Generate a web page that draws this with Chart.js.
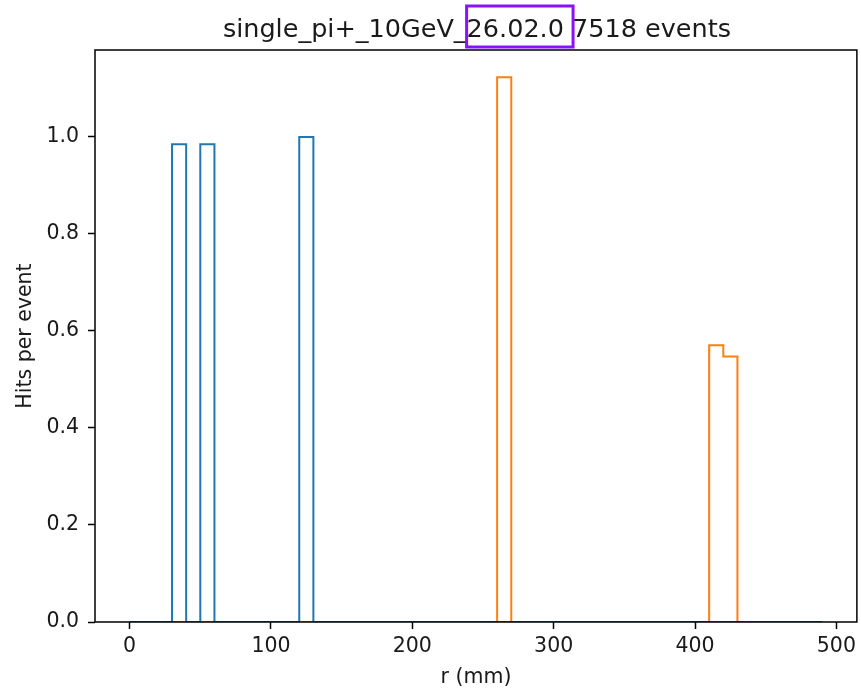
<!DOCTYPE html>
<html>
<head>
<meta charset="utf-8">
<title>single_pi+_10GeV hits vs r</title>
<script src="https://cdn.jsdelivr.net/npm/chart.js@4/dist/chart.umd.min.js"></script>
<style>
  html, body { margin: 0; padding: 0; background: #fff; }
  #wrap { width: 861px; height: 688px; }
</style>
</head>
<body>
<div id="wrap"><canvas id="hitsChart" width="861" height="688"></canvas></div>
<script>
// bin edges in r (mm), 10 mm wide
const binEdges = [
  0, 10, 20, 30, 40, 50, 60, 70, 80, 90,
  100, 110, 120, 130, 140, 150, 160, 170, 180, 190,
  200, 210, 220, 230, 240, 250, 260, 270, 280, 290,
  300, 310, 320, 330, 340, 350, 360, 370, 380, 390,
  400, 410, 420, 430, 440, 450, 460, 470, 480, 490
];

// hits per event in each bin (first series, blue)
const innerHits = [
  0, 0, 0, 0.984, 0, 0.984, 0, 0, 0, 0,
  0, 0, 0.999, 0, 0, 0, 0, 0, 0, 0,
  0, 0, 0, 0, 0, 0, 0, 0, 0, 0,
  0, 0, 0, 0, 0, 0, 0, 0, 0, 0,
  0, 0, 0, 0, 0, 0, 0, 0, 0
];

// hits per event in each bin (second series, orange)
const outerHits = [
  0, 0, 0, 0, 0, 0, 0, 0, 0, 0,
  0, 0, 0, 0, 0, 0, 0, 0, 0, 0,
  0, 0, 0, 0, 0, 0, 1.122, 0, 0, 0,
  0, 0, 0, 0, 0, 0, 0, 0, 0, 0,
  0, 0.570, 0.547, 0, 0, 0, 0, 0, 0
];

const xTicks = [0, 100, 200, 300, 400, 500];
const yTicks = [0.0, 0.2, 0.4, 0.6, 0.8, 1.0];

const sample = 'single_pi+_10GeV_';
const release = '26.02.0';
const nEvents = 7518;

// outline of a histogram, like histtype='step'
function stepPoints(edges, counts) {
  const pts = [{ x: edges[0], y: 0 }];
  for (let i = 0; i < counts.length; i++) {
    pts.push({ x: edges[i], y: counts[i] });
    pts.push({ x: edges[i + 1], y: counts[i] });
  }
  pts.push({ x: edges[edges.length - 1], y: 0 });
  return pts;
}

Chart.defaults.font.family = "'DejaVu Sans', sans-serif";
Chart.defaults.color = '#1a1a1a';

// frame on all four sides + title with the release highlighted
const frameAndTitle = {
  id: 'frameAndTitle',
  afterDatasetsDraw(chart) {
    const { ctx, chartArea: a } = chart;
    ctx.save();
    ctx.strokeStyle = '#000';
    ctx.lineWidth = 1.5;
    ctx.strokeRect(a.left, a.top, a.right - a.left, a.bottom - a.top);
    ctx.restore();
  },
  afterDraw(chart) {
    const { ctx, chartArea: a } = chart;
    const full = sample + release + ' ' + nEvents + ' events';
    ctx.save();
    ctx.font = "25.5px 'DejaVu Sans', sans-serif";
    ctx.fillStyle = '#1a1a1a';
    ctx.textBaseline = 'alphabetic';
    ctx.textAlign = 'left';
    const x0 = (a.left + a.right) / 2 - ctx.measureText(full).width / 2 + 1;
    const y0 = 36.5;
    ctx.fillText(full, x0, y0);

    const bx0 = x0 + ctx.measureText(sample).width;
    const bx1 = x0 + ctx.measureText(sample + release + ' ').width + 1;
    ctx.strokeStyle = '#8c10ff';
    ctx.lineWidth = 3;
    ctx.strokeRect(bx0, 6, bx1 - bx0, 41);
    ctx.restore();
  }
};

new Chart(document.getElementById('hitsChart'), {
  type: 'line',
  data: {
    datasets: [
      {
        data: stepPoints(binEdges, innerHits),
        borderColor: '#1f77b4',
        borderWidth: 2,
        pointRadius: 0,
        fill: false,
        tension: 0
      },
      {
        data: stepPoints(binEdges, outerHits),
        borderColor: '#ff7f0e',
        borderWidth: 2,
        pointRadius: 0,
        fill: false,
        tension: 0
      }
    ]
  },
  options: {
    responsive: false,
    devicePixelRatio: 1,
    animation: false,
    layout: { padding: { top: 50, right: 2, left: 0, bottom: 0 } },
    plugins: {
      legend: { display: false },
      tooltip: { enabled: false },
      title: { display: false }
    },
    scales: {
      x: {
        type: 'linear',
        min: -24.5,
        max: 514.5,
        afterFit(s) { s.height = 66; },
        afterBuildTicks(s) { s.ticks = xTicks.map(v => ({ value: v })); },
        ticks: {
          includeBounds: false,
          padding: 5,
          maxRotation: 0,
          font: { size: 20.5 },
          callback: v => String(v)
        },
        grid: {
          drawOnChartArea: false,
          drawTicks: true,
          tickLength: 7,
          tickWidth: 1.5,
          tickColor: '#000'
        },
        border: { display: false },
        title: {
          display: true,
          text: 'r (mm)',
          font: { size: 20.5, lineHeight: 1 },
          padding: { top: 0, bottom: 0 }
        }
      },
      y: {
        min: 0,
        max: 1.178,
        afterFit(s) { s.width = 95; },
        afterBuildTicks(s) { s.ticks = yTicks.map(v => ({ value: v })); },
        ticks: {
          includeBounds: false,
          padding: 9,
          font: { size: 20.5 },
          callback: v => v.toFixed(1)
        },
        grid: {
          drawOnChartArea: false,
          drawTicks: true,
          tickLength: 7,
          tickWidth: 1.5,
          tickColor: '#000'
        },
        border: { display: false },
        title: {
          display: true,
          text: 'Hits per event',
          font: { size: 20.5, lineHeight: 1.2 },
          padding: { top: 13, bottom: 0 }
        }
      }
    }
  },
  plugins: [frameAndTitle]
});
</script>
</body>
</html>
